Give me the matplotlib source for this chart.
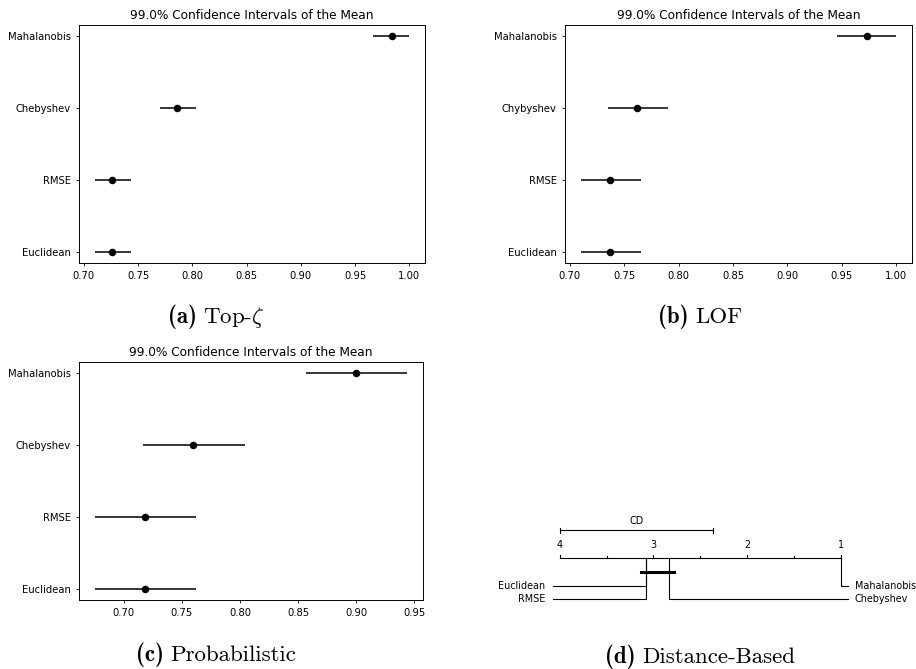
"""
Confidence intervals of the mean for four distance measures (three detectors)
plus a critical-difference diagram of their average ranks.
"""

import matplotlib
matplotlib.use("Agg")
import matplotlib.pyplot as plt

plt.rcParams["mathtext.fontset"] = "cm"

# --- data ----------------------------------------------------------------
title = "99.0% Confidence Intervals of the Mean"

labels_a = ["Euclidean", "RMSE", "Chebyshev", "Mahalanobis"]
mean_a = [0.726, 0.726, 0.786, 0.984]
low_a = [0.710, 0.710, 0.770, 0.967]
high_a = [0.743, 0.743, 0.803, 1.000]

labels_b = ["Euclidean", "RMSE", "Chybyshev", "Mahalanobis"]
mean_b = [0.737, 0.737, 0.762, 0.973]
low_b = [0.710, 0.710, 0.735, 0.946]
high_b = [0.765, 0.765, 0.790, 1.000]

labels_c = ["Euclidean", "RMSE", "Chebyshev", "Mahalanobis"]
mean_c = [0.718, 0.718, 0.760, 0.900]
low_c = [0.675, 0.675, 0.717, 0.857]
high_c = [0.762, 0.762, 0.804, 0.944]

# average ranks for the CD diagram
cd_names = ["Euclidean", "RMSE", "Chebyshev", "Mahalanobis"]
cd_ranks = [3.083, 3.083, 2.833, 1.000]
cd_value = 1.64
cd_cliques = [["Euclidean", "RMSE", "Chebyshev"]]

caption_tags = ["(a)", "(b)", "(c)", "(d)"]
caption_texts = [r"Top-$\zeta$", "LOF", "Probabilistic", "Distance-Based"]

W, H = 916, 669
fig = plt.figure(figsize=(W / 100, H / 100), dpi=100)


def px_axes(left, top, right, bottom):
    """Axes from pixel box (origin top-left)."""
    return fig.add_axes([left / W, 1 - bottom / H, (right - left) / W, (bottom - top) / H])


def ci_panel(ax, labels, mean, low, high):
    y = list(range(len(labels)))
    err = [[m - lo for m, lo in zip(mean, low)], [hi - m for m, hi in zip(mean, high)]]
    ax.errorbar(mean, y, xerr=err, fmt="o", color="black", ms=4.4, lw=1.1, capsize=0)
    ax.set_yticks(y)
    ax.set_yticklabels(labels)
    ax.tick_params(labelsize=7.2, length=2.5, width=0.6)
    for s in ax.spines.values():
        s.set_linewidth(0.7)
    ax.set_title(title, fontsize=8.7, pad=4)


ci_panel(px_axes(79, 25, 425, 263), labels_a, mean_a, low_a, high_a)
ci_panel(px_axes(565, 25, 912, 263), labels_b, mean_b, low_b, high_b)
ax_c = px_axes(79, 362, 423, 600)
ci_panel(ax_c, labels_c, mean_c, low_c, high_c)
ax_c.set_xticks([0.70, 0.75, 0.80, 0.85, 0.90, 0.95])

# --- CD diagram -------------------------------------------------------------
# x in rank units (reversed), y in pixel rows of the figure
ax_d = px_axes(500, 500, 916, 620)
ax_d.set_xlim(4.637, 0.196)
ax_d.set_ylim(620, 500)
ax_d.axis("off")

fs_d = 6.9
lo_rank, hi_rank = 1, len(cd_names)
y_axis = 557.7
lw = 0.8
ax_d.plot([hi_rank, lo_rank], [y_axis, y_axis], color="black", lw=lw)
r = lo_rank
while r <= hi_rank:
    major = float(r).is_integer()
    ax_d.plot([r, r], [y_axis, y_axis - (3 if major else 1.5)], color="black", lw=lw)
    if major:
        ax_d.text(r, y_axis - 10, str(int(r)), ha="center", va="baseline", fontsize=fs_d)
    r += 0.5

# CD bar
y_cd = 530.3
ax_d.plot([hi_rank, hi_rank - cd_value], [y_cd, y_cd], color="black", lw=lw)
for x in (hi_rank, hi_rank - cd_value):
    ax_d.plot([x, x], [y_cd - 2.5, y_cd + 2.5], color="black", lw=lw)
ax_d.text(hi_rank - cd_value / 2, y_cd - 4.5, "CD", ha="center", va="bottom", fontsize=fs_d)

# method lines
order = sorted(range(len(cd_names)), key=lambda i: -cd_ranks[i])
half = len(order) // 2
rows = [586.3, 599.3]
for k, i in enumerate(order[:half]):
    yk = rows[k]
    ax_d.plot([cd_ranks[i], cd_ranks[i], 4.075], [y_axis, yk, yk], color="black", lw=lw)
    ax_d.text(4.15, yk, cd_names[i], ha="right", va="center", fontsize=fs_d)
for k, i in enumerate(reversed(order[half:])):
    yk = rows[k]
    ax_d.plot([cd_ranks[i], cd_ranks[i], 0.922], [y_axis, yk, yk], color="black", lw=lw)
    ax_d.text(0.85, yk, cd_names[i], ha="left", va="center", fontsize=fs_d)

# cliques (groups not significantly different)
y_cl = 572
for clique in cd_cliques:
    rs = [cd_ranks[cd_names.index(n)] for n in clique]
    ax_d.plot([max(rs) + 0.05, min(rs) - 0.05], [y_cl, y_cl], color="black", lw=2.2)

# --- captions: bold tag + roman text, centred as one piece -------------------
renderer = fig.canvas.get_renderer()
gap = 6
for (cx, cy), tag, txt in zip([(216, 317), (700, 317), (216, 655), (700, 657)],
                              caption_tags, caption_texts):
    t1 = fig.text(0, 1 - cy / H, tag, ha="left", va="center", fontsize=16.5, family="cmb10")
    t2 = fig.text(0, 1 - cy / H, txt, ha="left", va="center", fontsize=16.5, family="cmr10")
    w1 = t1.get_window_extent(renderer).width
    w2 = t2.get_window_extent(renderer).width
    x0 = cx - (w1 + gap + w2) / 2
    t1.set_x(x0 / W)
    t2.set_x((x0 + w1 + gap) / W)

fig.savefig("out.png", dpi=100)
